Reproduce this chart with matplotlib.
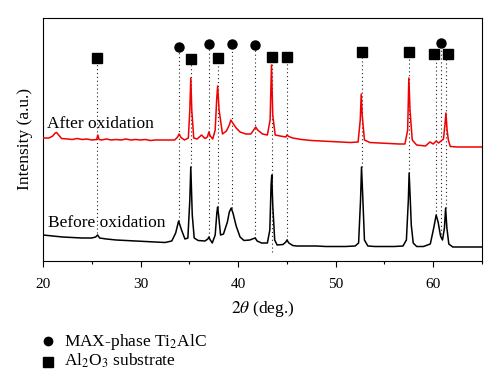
import matplotlib
matplotlib.use("Agg")
import matplotlib.pyplot as plt
from matplotlib.lines import Line2D

plt.rcParams['font.family'] = ['Liberation Serif', 'DejaVu Serif']
plt.rcParams['mathtext.fontset'] = 'stix'

# ---- data (2theta in degrees, intensity in arbitrary units) ----
before_2theta = [20, 21, 22, 23, 24, 25, 25.4, 25.6, 25.8, 26.5, 27.5, 28.5, 29.5, 30.5, 31.5, 32.5,
                 33.2, 33.6, 33.9, 34.2, 34.55, 34.85, 35.05, 35.15, 35.3, 35.5, 35.9, 36.6, 36.9, 37.0,
                 37.15, 37.35, 37.65, 37.82, 37.9, 38.0, 38.2, 38.5, 38.9, 39.1, 39.3, 39.5, 39.8, 40.2,
                 40.6, 41.2, 41.6, 41.75, 41.95, 42.4, 43.0, 43.25, 43.38, 43.45, 43.55, 43.75, 44.0,
                 44.6, 44.9, 45.0, 45.2, 45.6, 46.0, 47, 48, 49, 50, 51, 52, 52.35, 52.55, 52.65, 52.75,
                 52.95, 53.3, 54, 55, 56, 56.9, 57.25, 57.45, 57.53, 57.65, 57.75, 57.95, 58.3, 59, 59.7,
                 60.05, 60.3, 60.5, 60.75, 60.95, 61.15, 61.27, 61.4, 61.6, 62, 63, 64, 65]
before_int = [26, 25, 24, 23.5, 23, 23, 24, 26, 23, 22,
              21, 20.5, 20, 19.5, 19, 18.5, 20, 28, 40, 31,
              22, 23, 61, 94, 46, 23, 20.5, 20, 22, 24,
              21, 18, 26, 48, 54, 46, 26, 27, 39, 49,
              53, 47, 35, 24, 20.5, 21, 22.5, 23, 20, 18,
              18, 31, 76, 86, 56, 21, 16, 16.5, 19, 21,
              18, 15.5, 15, 15, 15, 14.5, 14.5, 14.5, 15, 18,
              61, 94, 71, 21, 15, 14.5, 14.5, 14.5, 15, 21,
              61, 88, 61, 36, 18, 14.5, 14.5, 17, 33, 46,
              39, 25, 21, 33, 53, 33, 17, 14, 14, 14, 14]

after_2theta = [20, 20.6, 21.0, 21.25, 21.4, 21.6, 21.9, 22.5, 23, 23.5, 24, 24.5, 25, 25.5, 25.62,
                25.75, 26, 26.5, 27, 27.5, 28, 28.5, 29, 29.5, 30, 30.5, 31, 31.5, 32, 32.5, 33, 33.5,
                33.8, 33.95, 34.15, 34.5, 34.9, 35.05, 35.15, 35.25, 35.45, 35.8, 36.25, 36.6, 36.85,
                37.0, 37.15, 37.4, 37.65, 37.8, 37.9, 38.05, 38.4, 38.8, 39.1, 39.25, 39.45, 39.8, 40.2,
                40.8, 41.3, 41.6, 41.8, 42.0, 42.5, 43.0, 43.28, 43.42, 43.55, 43.8, 44.3, 44.9, 45.0,
                45.2, 45.6, 46.5, 47.5, 48.5, 49.5, 50.5, 51.5, 52.3, 52.52, 52.62, 52.72, 52.95, 53.5,
                54.5, 55.5, 56.5, 57.1, 57.38, 57.5, 57.62, 57.85, 58.3, 59.2, 59.67, 60.0, 60.3, 60.55,
                60.8, 61.05, 61.2, 61.3, 61.42, 61.55, 61.75, 62.5, 63.5, 64.5, 65]
after_int = [123, 123, 125, 128, 128.5, 126, 122.5, 122, 121.5, 122.5,
             121.5, 122, 121, 121.5, 126, 121.5, 121, 122, 121, 121.5,
             121, 122, 121, 121.5, 121, 121.5, 120.5, 121, 121, 121,
             121, 121, 124, 127, 123.5, 121, 123, 151, 183, 151,
             123, 122, 126, 122.5, 124, 129, 125, 122, 131, 161,
             175, 151, 127, 130, 136, 141, 138, 133, 129, 127,
             127, 131, 134, 131, 127, 126, 141, 196, 146, 126,
             125, 124, 126, 124.5, 123, 121.5, 120.5, 120, 119.5, 119,
             118.5, 119, 141, 167, 146, 121, 118.5, 118, 117.5, 117,
             117, 131, 183, 151, 121, 116, 115, 119, 117, 120,
             118, 120, 122, 136, 148, 131, 121, 114.5, 114, 114,
             114, 114]

# reference peak lines
line_2theta = [25.55, 33.9, 35.13, 36.98, 37.9, 39.35, 41.7, 43.43, 45.05, 52.65, 57.55, 60.3, 60.76, 61.27]
line_bottom = [28, 40, 94, 24, 54, 53, 23, 9, 21, 94, 88, 46, 23, 53]
marker_2theta = [25.55, 33.9, 35.13, 36.98, 37.9, 39.35, 41.7, 43.43, 45.05, 52.65, 57.55, 60.03, 60.76, 61.55]
marker_int = [203, 214, 202, 217, 203, 217, 216, 204, 204, 209, 209, 207, 218, 207]
marker_phase = ['Al2O3', 'MAX', 'Al2O3', 'MAX', 'Al2O3', 'MAX', 'MAX', 'Al2O3', 'Al2O3',
                'Al2O3', 'Al2O3', 'Al2O3', 'MAX', 'Al2O3']

xticks = [20, 30, 40, 50, 60]
minor_xticks = [25, 35, 45, 55, 65]

W, H = 500, 388
fig = plt.figure(figsize=(5.0, 3.88), dpi=100)
ax = fig.add_axes([43 / W, 1 - 261 / H, (482 - 43) / W, (261 - 18) / H])

# dotted reference lines
for x, yb, yt in zip(line_2theta, line_bottom, marker_int):
    ax.plot([x, x], [yb, yt], color='#222222', lw=0.8, linestyle=(0, (1, 2.5)), zorder=1)

ax.plot(before_2theta, before_int, color='black', lw=1.1, zorder=3)
ax.plot(after_2theta, after_int, color='#f00000', lw=1.1, zorder=3)

for x, y, ph in zip(marker_2theta, marker_int, marker_phase):
    if ph == 'MAX':
        ax.plot(x, y, marker='o', ms=6.5, color='black', mec='black', zorder=4, linestyle='none')
    else:
        ax.plot(x, y, marker='s', ms=7.4, color='black', mec='black', zorder=4, linestyle='none')

ax.text(20.41, 133.3, 'After oxidation', fontsize=12.5, va='baseline', ha='left', zorder=5)
ax.text(20.5, 34.3, 'Before oxidation', fontsize=12.5, va='baseline', ha='left', zorder=5)

ax.set_xlim(20, 65)
ax.set_ylim(0, 243)
ax.set_xticks(xticks)
ax.set_xticks(minor_xticks, minor=True)
ax.set_yticks([])
ax.tick_params(axis='x', which='major', direction='out', length=4, width=0.8, labelsize=11, pad=8)
ax.tick_params(axis='x', which='minor', direction='out', length=2.5, width=0.8)
for s in ax.spines.values():
    s.set_linewidth(0.8)

ax.set_xlabel(r'$2\theta$ (deg.)', fontsize=12.5, labelpad=6)
ax.set_ylabel('Intensity (a.u.)', fontsize=12.5)
ax.yaxis.set_label_coords(-0.022, 0.5)

# legend below the axes
fig.add_artist(Line2D([48 / W], [1 - 341 / H], marker='o', ms=6, color='black', linestyle='none',
                      transform=fig.transFigure))
fig.add_artist(Line2D([48 / W], [1 - 362 / H], marker='s', ms=7, color='black', linestyle='none',
                      transform=fig.transFigure))
fig.text(64 / W, 1 - 345.7 / H, r'MAX-phase Ti$_2$AlC', fontsize=12.5, va='baseline', ha='left')
fig.text(64 / W, 1 - 366 / H, r'Al$_2$O$_3$ substrate', fontsize=12.5, va='baseline', ha='left')

fig.savefig('out.png', dpi=100)
